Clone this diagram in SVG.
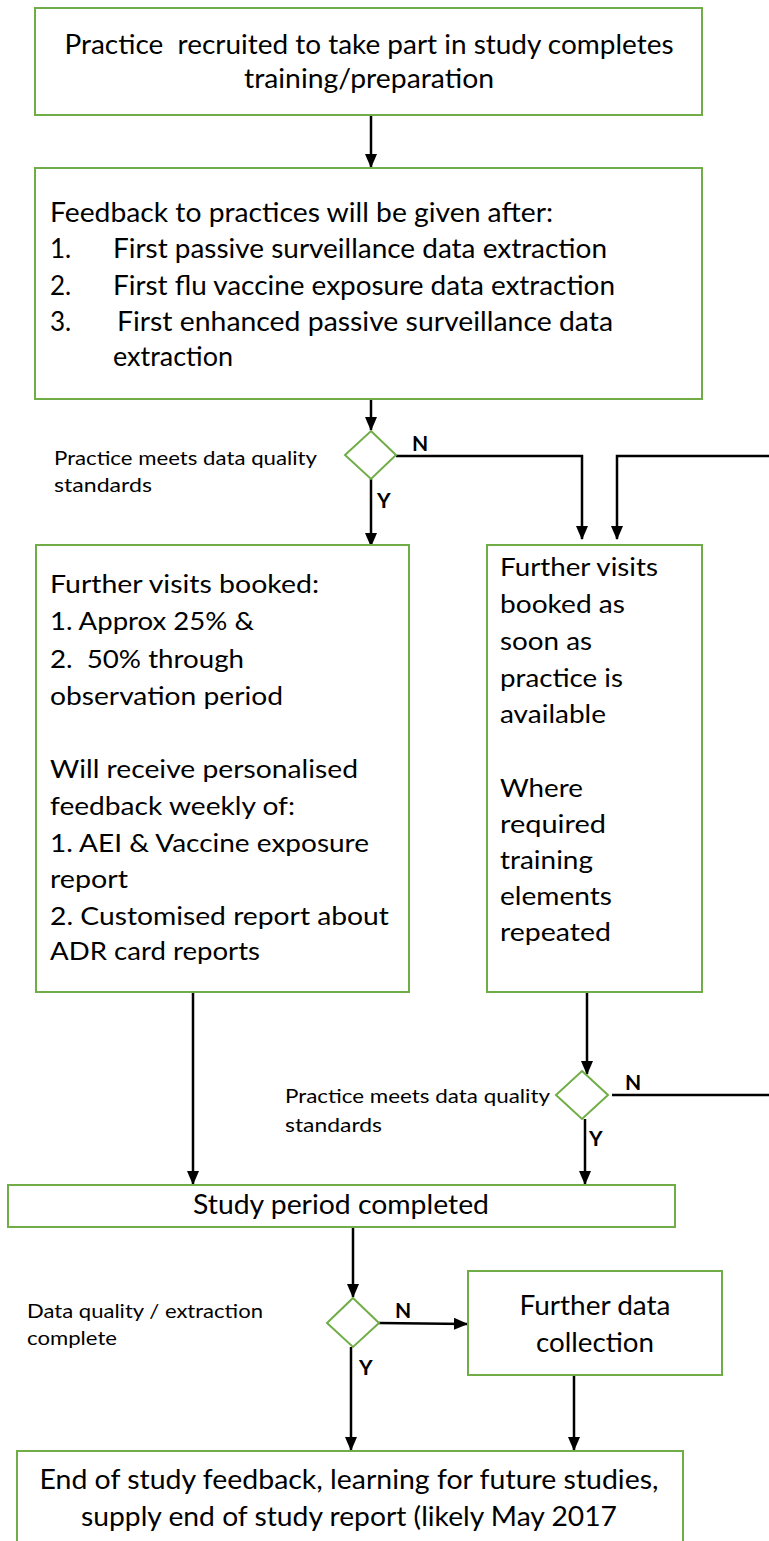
<svg xmlns="http://www.w3.org/2000/svg" width="769" height="1541" viewBox="0 0 769 1541">
  <style>
    .box { fill: #ffffff; stroke: #70AD47; stroke-width: 2; }
    .dec { fill: #ffffff; stroke: #70AD47; stroke-width: 2; }
    .link { fill: none; stroke: #000000; stroke-width: 2.5; }
    .t { font-family: Lato, "Open Sans", sans-serif; fill: #000000; }
    .big { font-size: 27px; }
    .mid { font-size: 26px; }
    .body { font-size: 25px; }
    .lab { font-size: 19px; }
    .yn { font-size: 21px; font-weight: bold; }
    .c { text-anchor: middle; }
  </style>
  <defs>
    <marker id="arrow" markerUnits="userSpaceOnUse" markerWidth="14" markerHeight="14" viewBox="0 0 14 14" refX="13" refY="7" orient="auto">
      <path d="M0,1 L14,7 L0,13 Z" fill="#000000"/>
    </marker>
  </defs>

  <rect width="769" height="1541" fill="#ffffff"/>

  <!-- connectors -->
  <g id="connectors">
    <path class="link" d="M371,115 V167" marker-end="url(#arrow)"/>
    <path class="link" d="M371,399 V430" marker-end="url(#arrow)"/>
    <path class="link" d="M396,456 H582 V539" marker-end="url(#arrow)"/>
    <path class="link" d="M769,456 H617 V539" marker-end="url(#arrow)"/>
    <path class="link" d="M371,479 V546" marker-end="url(#arrow)"/>
    <path class="link" d="M587,992 V1074" marker-end="url(#arrow)"/>
    <path class="link" d="M612,1095 H769"/>
    <path class="link" d="M585,1119 V1184" marker-end="url(#arrow)"/>
    <path class="link" d="M193,992 V1184" marker-end="url(#arrow)"/>
    <path class="link" d="M353,1227 V1297" marker-end="url(#arrow)"/>
    <path class="link" d="M379,1323 L467,1324" marker-end="url(#arrow)"/>
    <path class="link" d="M351,1347 V1450" marker-end="url(#arrow)"/>
    <path class="link" d="M574,1375 V1450" marker-end="url(#arrow)"/>
    <text class="t yn" x="412" y="451">N</text>
    <text class="t yn" x="377" y="508">Y</text>
    <text class="t yn" x="625" y="1090">N</text>
    <text class="t yn" x="589" y="1146">Y</text>
    <text class="t yn" x="395" y="1318">N</text>
    <text class="t yn" x="359" y="1375">Y</text>
  </g>

  <!-- start -->
  <g id="recruited">
    <rect class="box" x="35" y="8" width="667" height="107"/>
    <text class="t big c" x="369" y="54" xml:space="preserve" textLength="609" lengthAdjust="spacingAndGlyphs">Practice  recruited to take part in study completes</text>
    <text class="t big c" x="369" y="88" textLength="250" lengthAdjust="spacingAndGlyphs">training/preparation</text>
  </g>

  <g id="feedback">
    <rect class="box" x="35" y="168" width="667" height="231"/>
    <text class="t mid" x="50" y="222" textLength="503" lengthAdjust="spacingAndGlyphs">Feedback to practices will be given after:</text>
    <text class="t mid" x="50" y="258">1.</text>
    <text class="t mid" x="113" y="258" textLength="494" lengthAdjust="spacingAndGlyphs">First passive surveillance data extraction</text>
    <text class="t mid" x="50" y="295">2.</text>
    <text class="t mid" x="113" y="295" textLength="502" lengthAdjust="spacingAndGlyphs">First flu vaccine exposure data extraction</text>
    <text class="t mid" x="50" y="331">3.</text>
    <text class="t mid" x="117" y="331" textLength="496" lengthAdjust="spacingAndGlyphs">First enhanced passive surveillance data</text>
    <text class="t mid" x="113" y="366" textLength="120" lengthAdjust="spacingAndGlyphs">extraction</text>
  </g>

  <g id="quality-check-1">
    <polygon class="dec" points="371,431 396,455 371,479 345,455"/>
    <text class="t lab" x="54" y="465" textLength="263" lengthAdjust="spacingAndGlyphs">Practice meets data quality</text>
    <text class="t lab" x="54" y="492" textLength="98" lengthAdjust="spacingAndGlyphs">standards</text>
  </g>

  <g id="visits-booked">
    <rect class="box" x="36" y="545" width="373" height="447"/>
    <text class="t body" x="50" y="593" textLength="269" lengthAdjust="spacingAndGlyphs">Further visits booked:</text>
    <text class="t body" x="50" y="630" textLength="204" lengthAdjust="spacingAndGlyphs">1. Approx 25% &amp;</text>
    <text class="t body" x="50" y="668" xml:space="preserve" textLength="194" lengthAdjust="spacingAndGlyphs">2.  50% through</text>
    <text class="t body" x="50" y="705" textLength="233" lengthAdjust="spacingAndGlyphs">observation period</text>
    <text class="t body" x="50" y="778" textLength="308" lengthAdjust="spacingAndGlyphs">Will receive personalised</text>
    <text class="t body" x="50" y="815" textLength="245" lengthAdjust="spacingAndGlyphs">feedback weekly of:</text>
    <text class="t body" x="50" y="852" textLength="319" lengthAdjust="spacingAndGlyphs">1. AEI &amp; Vaccine exposure</text>
    <text class="t body" x="50" y="888" textLength="78" lengthAdjust="spacingAndGlyphs">report</text>
    <text class="t body" x="50" y="925" textLength="339" lengthAdjust="spacingAndGlyphs">2. Customised report about</text>
    <text class="t body" x="50" y="960" textLength="210" lengthAdjust="spacingAndGlyphs">ADR card reports</text>
  </g>

  <g id="visits-asap">
    <rect class="box" x="487" y="545" width="215" height="447"/>
    <text class="t body" x="500" y="576" textLength="158" lengthAdjust="spacingAndGlyphs">Further visits</text>
    <text class="t body" x="500" y="613" textLength="125" lengthAdjust="spacingAndGlyphs">booked as</text>
    <text class="t body" x="500" y="650" textLength="92" lengthAdjust="spacingAndGlyphs">soon as</text>
    <text class="t body" x="500" y="687" textLength="123" lengthAdjust="spacingAndGlyphs">practice is</text>
    <text class="t body" x="500" y="723" textLength="106" lengthAdjust="spacingAndGlyphs">available</text>
    <text class="t body" x="500" y="797" textLength="83" lengthAdjust="spacingAndGlyphs">Where</text>
    <text class="t body" x="500" y="833" textLength="106" lengthAdjust="spacingAndGlyphs">required</text>
    <text class="t body" x="500" y="869" textLength="93" lengthAdjust="spacingAndGlyphs">training</text>
    <text class="t body" x="500" y="905" textLength="112" lengthAdjust="spacingAndGlyphs">elements</text>
    <text class="t body" x="500" y="941" textLength="111" lengthAdjust="spacingAndGlyphs">repeated</text>
  </g>

  <g id="quality-check-2">
    <polygon class="dec" points="582,1071 608,1095 582,1119 556,1095"/>
    <text class="t lab" x="285" y="1103" textLength="265" lengthAdjust="spacingAndGlyphs">Practice meets data quality</text>
    <text class="t lab" x="285" y="1132" textLength="97" lengthAdjust="spacingAndGlyphs">standards</text>
  </g>

  <g id="study-completed">
    <rect class="box" x="8" y="1185" width="667" height="42"/>
    <text class="t big c" x="341" y="1214" textLength="296" lengthAdjust="spacingAndGlyphs">Study period completed</text>
  </g>

  <g id="extraction-check">
    <polygon class="dec" points="353,1298 379,1323 353,1347 327,1323"/>
    <text class="t lab" x="27" y="1318" textLength="236" lengthAdjust="spacingAndGlyphs">Data quality / extraction</text>
    <text class="t lab" x="27" y="1345" textLength="90" lengthAdjust="spacingAndGlyphs">complete</text>
  </g>

  <g id="further-collection">
    <rect class="box" x="468" y="1271" width="254" height="104"/>
    <text class="t big c" x="595" y="1315" textLength="151" lengthAdjust="spacingAndGlyphs">Further data</text>
    <text class="t big c" x="595" y="1352" textLength="118" lengthAdjust="spacingAndGlyphs">collection</text>
  </g>

  <g id="end-of-study">
    <rect class="box" x="17" y="1451" width="666" height="100"/>
    <text class="t big c" x="349" y="1489" textLength="619" lengthAdjust="spacingAndGlyphs">End of study feedback, learning for future studies,</text>
    <text class="t big c" x="349" y="1526" textLength="536" lengthAdjust="spacingAndGlyphs">supply end of study report (likely May 2017</text>
  </g>
</svg>
